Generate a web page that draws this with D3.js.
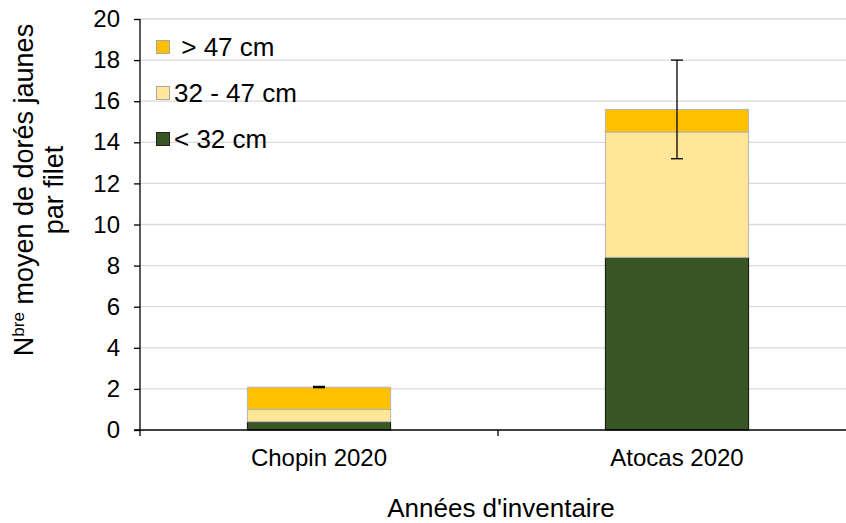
<!DOCTYPE html>
<html><head><meta charset="utf-8">
<script src="https://cdn.jsdelivr.net/npm/d3@7"></script>
<style>body{margin:0;background:#fff}svg{display:block;font-family:"Liberation Sans",Arial,sans-serif}</style>
</head><body><svg id="c" width="846" height="523"></svg>
<script>
const categories = ["Chopin 2020", "Atocas 2020"];
const seriesNames = ["< 32 cm", "32 - 47 cm", "> 47 cm"];
const small = [0.40, 8.40];
const medium = [0.60, 6.10];
const large = [1.08, 1.10];
const errHigh = [2.12, 18.0];
const errLow = [2.06, 13.2];
const yTicks = [0, 2, 4, 6, 8, 10, 12, 14, 16, 18, 20];
const legendLabels = [" > 47 cm", "32 - 47 cm", "< 32 cm"];

const colors = {"< 32 cm": "#375623", "32 - 47 cm": "#FFE699", "> 47 cm": "#FFC000"};
const strokes = {"< 32 cm": "#111", "32 - 47 cm": "#b3b3b3", "> 47 cm": "#b3b3b3"};
const FF = "Liberation Sans, Arial, sans-serif";

const svg = d3.select("#c");
const mLeft = 140, mRight = 856, mTop = 19, mBottom = 430;
const x = d3.scaleBand().domain(categories).range([mLeft, mRight]).padding(0);
const y = d3.scaleLinear().domain([0, 20]).range([mBottom, mTop]);
const barW = x.bandwidth() * 0.4;

// grid
svg.append("g").selectAll("line").data(yTicks.filter(d => d > 0)).join("line")
  .attr("x1", mLeft).attr("x2", 846).attr("y1", d => y(d)).attr("y2", d => y(d))
  .attr("stroke", "#d9d9d9").attr("stroke-width", 1.3);

// stacked data
const rows = categories.map((c, i) => ({cat: c, "< 32 cm": small[i], "32 - 47 cm": medium[i], "> 47 cm": large[i]}));
const stack = d3.stack().keys(seriesNames)(rows);
svg.append("g").selectAll("g").data(stack).join("g")
  .attr("fill", d => colors[d.key]).attr("stroke", d => strokes[d.key]).attr("stroke-width", 1)
  .selectAll("rect").data(d => d).join("rect")
  .attr("x", d => x(d.data.cat) + (x.bandwidth() - barW) / 2)
  .attr("width", barW)
  .attr("y", d => y(d[1]))
  .attr("height", d => y(d[0]) - y(d[1]));

// error bars
const eg = svg.append("g").attr("stroke", "#000").attr("stroke-width", 1.3);
categories.forEach((c, i) => {
  const cx = x(c) + x.bandwidth() / 2;
  eg.append("line").attr("x1", cx).attr("x2", cx).attr("y1", y(errHigh[i])).attr("y2", y(errLow[i]));
  eg.append("line").attr("x1", cx - 6).attr("x2", cx + 6).attr("y1", y(errHigh[i])).attr("y2", y(errHigh[i]));
  eg.append("line").attr("x1", cx - 6).attr("x2", cx + 6).attr("y1", y(errLow[i])).attr("y2", y(errLow[i]));
});

// y axis
const ya = svg.append("g").attr("transform", `translate(${mLeft},0)`)
  .call(d3.axisLeft(y).tickValues(yTicks).tickSize(6).tickPadding(14));
ya.select(".domain").attr("stroke", "#000").attr("stroke-width", 1.3).attr("d", `M0,${mTop}V${mBottom}`);
ya.selectAll(".tick line").attr("stroke", "#000").attr("stroke-width", 1.3);
ya.selectAll(".tick text").attr("font-size", 24).attr("fill", "#000").attr("font-family", FF);

// x axis
const xa = svg.append("g").attr("transform", `translate(0,${mBottom})`);
xa.append("line").attr("x1", mLeft - 6).attr("x2", 846).attr("stroke", "#000").attr("stroke-width", 1.6);
const boundaries = [mLeft, ...categories.map(c => x(c) + x.bandwidth())];
xa.selectAll(".bt").data(boundaries).join("line").attr("class", "bt")
  .attr("x1", d => d).attr("x2", d => d).attr("y1", 0).attr("y2", 6)
  .attr("stroke", "#000").attr("stroke-width", 1.3);
xa.selectAll(".cl").data(categories).join("text").attr("class", "cl")
  .attr("x", d => x(d) + x.bandwidth() / 2).attr("y", 36)
  .attr("text-anchor", "middle").attr("font-size", 24).attr("fill", "#000").text(d => d);

// axis titles
svg.append("text").attr("x", 501).attr("y", 517).attr("text-anchor", "middle")
  .attr("font-size", 26).attr("fill", "#000").text("Années d'inventaire");
const yt = svg.append("text").attr("transform", "translate(33,190) rotate(-90)")
  .attr("text-anchor", "middle").attr("font-size", 27).attr("fill", "#000");
yt.append("tspan").text("N");
yt.append("tspan").attr("font-size", 17).attr("dy", -9).text("bre");
yt.append("tspan").attr("dy", 9).text(" moyen de dorés jaunes");
svg.append("text").attr("transform", "translate(63,190) rotate(-90)")
  .attr("text-anchor", "middle").attr("font-size", 27).attr("fill", "#000").text("par filet");

// legend
const legKeys = ["> 47 cm", "32 - 47 cm", "< 32 cm"];
const lg = svg.append("g");
legKeys.forEach((k, i) => {
  const yy = 47 + i * 46;
  lg.append("rect").attr("x", 156.5).attr("y", yy - 6.5).attr("width", 13).attr("height", 13)
    .attr("fill", colors[k]).attr("stroke", strokes[k] === "#111" ? "#222" : "#a6a6a6");
  lg.append("text").attr("x", 174).attr("y", yy + 9).attr("font-size", 26).attr("fill", "#000")
    .attr("xml:space", "preserve").style("white-space", "pre").text(legendLabels[i]);
});
</script></body></html>
